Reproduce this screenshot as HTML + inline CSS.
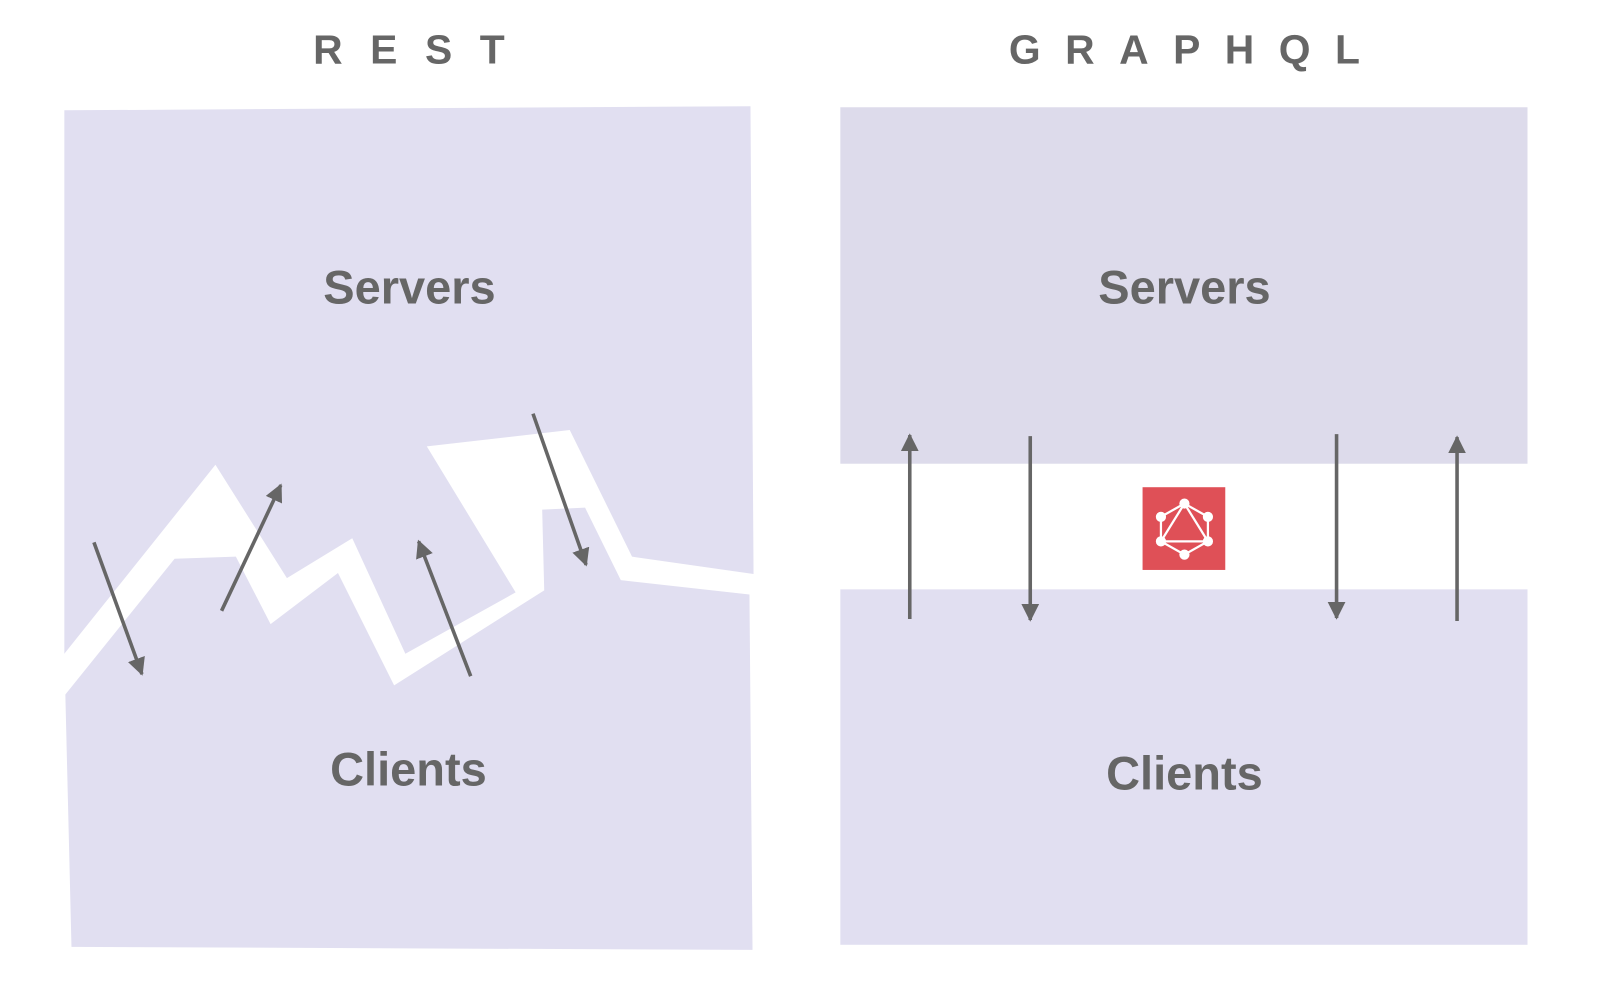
<!DOCTYPE html>
<html><head><meta charset="utf-8"><style>
html,body{margin:0;padding:0;background:#fff;}
svg{display:block;}
text{font-family:"Liberation Sans",sans-serif;fill:#666;font-weight:bold;}
</style></head><body>
<svg width="1600" height="1002" viewBox="0 0 1567 981" preserveAspectRatio="none" xmlns="http://www.w3.org/2000/svg">
<defs>
<marker id="ah" viewBox="0 0 10 10" refX="9" refY="5" markerWidth="5" markerHeight="5" orient="auto" markerUnits="strokeWidth">
<path d="M0,0 L10,5 L0,10 z" fill="#666"/></marker>
</defs>
<rect width="1567" height="981" fill="#fff"/>
<text x="414" y="62" font-size="40" text-anchor="middle" letter-spacing="27">REST</text>
<text x="1172" y="62" font-size="40" text-anchor="middle" letter-spacing="24">GRAPHQL</text>
<!-- left panel -->
<polygon points="63,108 735,104 738,562 734,582 737,930 70,927 64,680 63,640" fill="#e1dff1"/>
<polygon fill="#fff" points="40,670 63,640 211,455 281,566 345,527 397,640 505,580 418,437 558,421 619,545 738,562 800,562 800,590 734,582 608,568 573,497 531,499 533,578 386,671 331,561 265,611 231,545 171,547 64,680 40,710"/>
<text x="401" y="297" font-size="46" text-anchor="middle">Servers</text>
<text x="400" y="769" font-size="46" text-anchor="middle">Clients</text>
<g stroke="#666" stroke-width="3.5" fill="none" marker-end="url(#ah)">
<line x1="92" y1="531" x2="139" y2="660"/>
<line x1="217" y1="598" x2="275" y2="475"/>
<line x1="461" y1="662" x2="410" y2="530"/>
<line x1="522" y1="405" x2="574" y2="553"/>
</g>
<!-- right panel -->
<rect x="823" y="105" width="673" height="349" fill="#dddbeb"/>
<rect x="823" y="577" width="673" height="348" fill="#e1dff1"/>
<text x="1160" y="297" font-size="46" text-anchor="middle">Servers</text>
<text x="1160" y="773" font-size="46" text-anchor="middle">Clients</text>
<g stroke="#666" stroke-width="3.5" fill="none" marker-end="url(#ah)">
<line x1="891" y1="606" x2="891" y2="426"/>
<line x1="1009" y1="427" x2="1009" y2="607"/>
<line x1="1309" y1="425" x2="1309" y2="605"/>
<line x1="1427" y1="608" x2="1427" y2="428"/>
</g>
<rect x="1119" y="477" width="81" height="81" fill="#df5057"/>
<g stroke="#fff" stroke-width="2.2" fill="none">
<polygon points="1160,493 1183,506 1183,530 1160,543 1137,530 1137,506"/>
<polygon points="1160,493 1183,530 1137,530"/>
</g>
<g fill="#fff">
<circle cx="1160" cy="493" r="5"/><circle cx="1183" cy="506" r="5"/><circle cx="1183" cy="530" r="5"/>
<circle cx="1160" cy="543" r="5"/><circle cx="1137" cy="530" r="5"/><circle cx="1137" cy="506" r="5"/>
</g>
</svg>
</body></html>
